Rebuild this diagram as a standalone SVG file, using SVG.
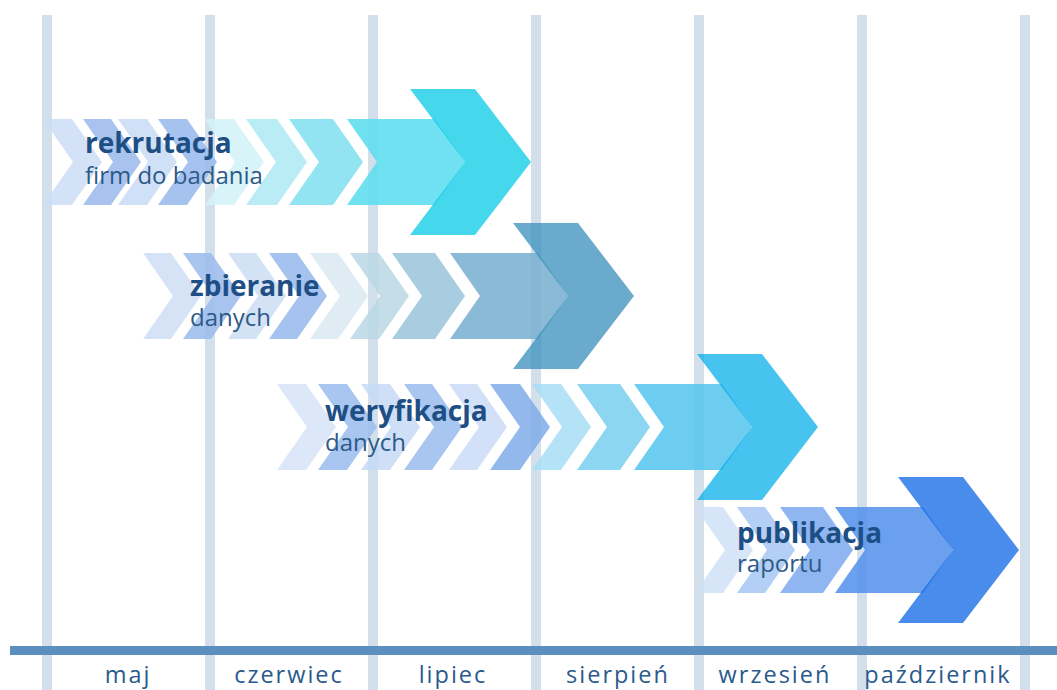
<svg xmlns="http://www.w3.org/2000/svg" width="1057" height="690" viewBox="0 0 1057 690">
<style>
.vl{fill:#d3e0ec}
.ax{fill:#5b8fc0}
.ch{fill-opacity:0.85}
.t1{font-family:"Open Sans","Liberation Sans",sans-serif;font-weight:700;font-size:28px;fill:#1d4f85}
.t2{font-family:"Open Sans","Liberation Sans",sans-serif;font-size:24px;fill:#2d5a87}
.m{font-family:"Open Sans","Liberation Sans",sans-serif;font-size:23.5px;fill:#2a5a8c;letter-spacing:2px;text-anchor:middle}
</style>
<defs>
<path id="shaft" d="M0,-43H88L118,0L88,43H0L30,0Z"/>
<path id="head" d="M63,-73H128L184,0L128,73H63L118,0Z"/>
</defs>
<rect width="1057" height="690" fill="#ffffff"/>
<g id="grid">
<rect class="vl" x="42" y="15" width="10" height="675"/>
<rect class="vl" x="205" y="15" width="10" height="675"/>
<rect class="vl" x="368" y="15" width="10" height="675"/>
<rect class="vl" x="531" y="15" width="10" height="675"/>
<rect class="vl" x="694" y="15" width="10" height="675"/>
<rect class="vl" x="857" y="15" width="10" height="675"/>
<rect class="vl" x="1020" y="15" width="10" height="675"/>
<rect class="ax" x="10" y="646" width="1047" height="9"/>
</g>
<g id="row1" transform="translate(0,162)">
<path class="ch" fill="#cbddf6" d="M43,-43H72L102,0L72,43H43L73,0Z"/>
<path class="ch" fill="#99baeb" d="M83,-43H111L141,0L111,43H83L113,0Z"/>
<path class="ch" fill="#c8daf6" d="M118,-43H147L177,0L147,43H118L148,0Z"/>
<path class="ch" fill="#96b8ec" d="M158,-43H187L217,0L187,43H158L188,0Z"/>
<path class="ch" fill="#d2f2f8" d="M205,-43H234L264,0L234,43H205L235,0Z"/>
<path class="ch" fill="#ade9f3" d="M246,-43H277L307,0L277,43H246L276,0Z"/>
<path class="ch" fill="#80dff0" d="M289,-43H333L363,0L333,43H289L319,0Z"/>
<use href="#shaft" class="ch" fill="#57dcef" transform="translate(347,0)"/>
<use href="#head" fill="#17cee9" fill-opacity="0.8" transform="translate(347,0)"/>
<text class="t1" x="85" y="-9">rekrutacja</text>
<text class="t2" x="85" y="22">firm do badania</text>
</g>
<g id="row2" transform="translate(0,296)">
<path class="ch" fill="#cfdef5" d="M143,-43H171L201,0L171,43H143L173,0Z"/>
<path class="ch" fill="#9abbec" d="M183,-43H211L241,0L211,43H183L213,0Z"/>
<path class="ch" fill="#ccddf5" d="M228,-43H256L286,0L256,43H228L258,0Z"/>
<path class="ch" fill="#96b8ec" d="M269,-43H297L327,0L297,43H269L299,0Z"/>
<path class="ch" fill="#d9e9f1" d="M310,-43H338L368,0L338,43H310L340,0Z"/>
<path class="ch" fill="#bad7e5" d="M350,-43H379L409,0L379,43H350L380,0Z"/>
<path class="ch" fill="#9ac4db" d="M392,-43H435L465,0L435,43H392L422,0Z"/>
<use href="#shaft" class="ch" fill="#77aecf" transform="translate(450,0)"/>
<use href="#head" fill="#3d91be" fill-opacity="0.77" transform="translate(450,0)"/>
<text class="t1" x="190" y="0">zbieranie</text>
<text class="t2" x="190" y="30">danych</text>
</g>
<g id="row3" transform="translate(0,427)">
<path class="ch" fill="#d6e3f7" d="M277,-43H306L336,0L306,43H277L307,0Z"/>
<path class="ch" fill="#9abcee" d="M318,-43H347L377,0L347,43H318L348,0Z"/>
<path class="ch" fill="#c6d9f6" d="M361,-43H390L420,0L390,43H361L391,0Z"/>
<path class="ch" fill="#9abcee" d="M404,-43H432L462,0L432,43H404L434,0Z"/>
<path class="ch" fill="#cadcf6" d="M449,-43H477L507,0L477,43H449L479,0Z"/>
<path class="ch" fill="#80ace9" d="M490,-43H520L550,0L520,43H490L520,0Z"/>
<path class="ch" fill="#a7ddf4" d="M532,-43H561L591,0L561,43H532L562,0Z"/>
<path class="ch" fill="#79cff0" d="M577,-43H620L650,0L620,43H577L607,0Z"/>
<use href="#shaft" class="ch" fill="#53c4ed" transform="translate(634,0)"/>
<use href="#head" fill="#08afe8" fill-opacity="0.75" transform="translate(634,0)"/>
<text class="t1" x="325" y="-6">weryfikacja</text>
<text class="t2" x="325" y="24">danych</text>
</g>
<g id="row4" transform="translate(0,550)">
<path class="ch" fill="#cfe0f7" d="M695,-43H723L753,0L723,43H695L725,0Z"/>
<path class="ch" fill="#a7c7f3" d="M737,-43H765L795,0L765,43H737L767,0Z"/>
<path class="ch" fill="#7ba9ed" d="M780,-43H823L853,0L823,43H780L810,0Z"/>
<use href="#shaft" class="ch" fill="#518fec" transform="translate(835,0)"/>
<use href="#head" fill="#176be7" fill-opacity="0.78" transform="translate(835,0)"/>
<text class="t1" x="737" y="-7">publikacja</text>
<text class="t2" x="737" y="22">raportu</text>
</g>
<g id="months">
<text class="m" x="128" y="683">maj</text>
<text class="m" x="289" y="683">czerwiec</text>
<text class="m" x="453" y="683">lipiec</text>
<text class="m" x="618" y="683">sierpień</text>
<text class="m" x="775" y="683">wrzesień</text>
<text class="m" x="938" y="683">październik</text>
</g>
</svg>
